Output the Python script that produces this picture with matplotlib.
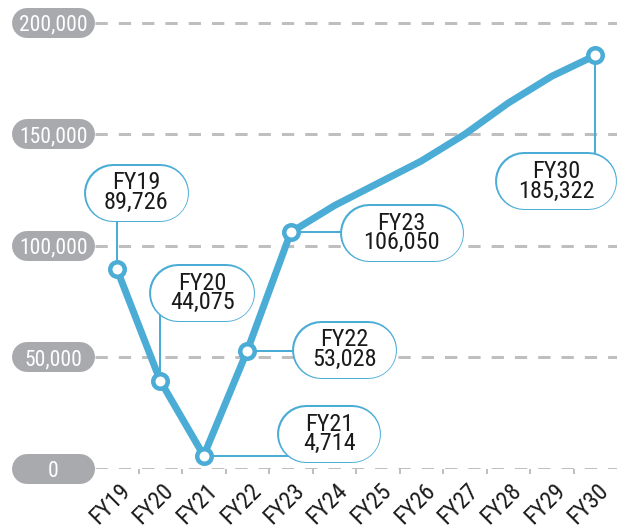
import matplotlib
matplotlib.use('Agg')
import matplotlib.pyplot as plt
import matplotlib.transforms as mtransforms

plt.rcParams['font.family'] = ['Roboto Condensed', 'DejaVu Sans']
plt.rcParams['lines.scale_dashes'] = False

years = ['FY19', 'FY20', 'FY21', 'FY22', 'FY23', 'FY24', 'FY25',
         'FY26', 'FY27', 'FY28', 'FY29', 'FY30']
values = [89726, 39500, 6000, 53028, 106050, 118000, 128000,
          138000, 150000, 164000, 176000, 185322]

yticks = [0, 50000, 100000, 150000, 200000]
ytick_labels = ['0', '50,000', '100,000', '150,000', '200,000']

# callouts: which year, label text, box centre, box width (px), connector direction
callout_idx = [0, 1, 2, 3, 4, 11]
callout_text = ['FY19\n89,726', 'FY20\n44,075', 'FY21\n4,714',
                'FY22\n53,028', 'FY23\n106,050', 'FY30\n185,322']
callout_x = [0.45, 1.966, 4.885, 5.24, 6.55, 10.10]
callout_y = [123900, 78870, 15680, 53550, 105760, 128840]
callout_w = [105, 106, 104, 105, 124, 122]
callout_dir = ['v', 'v', 'h', 'h', 'h', 'v']

blue = '#4badd6'
grey_pill = '#a9aaad'
grid_grey = '#bfbfbf'

W, H = 617, 529
fig = plt.figure(figsize=(W / 100, H / 100), dpi=100)
ax = fig.add_axes([95 / W, 60 / H, 522 / W, 469 / H])
ax.set_xlim(-0.5, 11.5)
ax.set_ylim(0, 210170)
for s in ax.spines.values():
    s.set_visible(False)

px = 72 / 100  # points per pixel
xunit_px = 522 / 12

# dashed gridlines
for v in yticks:
    ax.axhline(v, color=grid_grey, lw=3 * px, dashes=(12.3 * px, 11 * px),
               zorder=1)

# grey pill y labels
trans = mtransforms.blended_transform_factory(ax.transAxes, ax.transData)
for v, lab in zip(yticks, ytick_labels):
    ax.plot([(27 - 95) / 522, (80 - 95) / 522], [v, v], transform=trans,
            color=grey_pill, lw=30 * px, solid_capstyle='round',
            clip_on=False, zorder=3)
    ax.text((53.5 - 95) / 522, v, lab, transform=trans, color='white',
            fontsize=15.5, ha='center', va='center_baseline', clip_on=False,
            zorder=4)

# x ticks
x = list(range(len(years)))
ax.set_xticks(x)
ax.set_xticklabels(years, rotation=45, ha='right', va='top',
                   rotation_mode='anchor', fontsize=17, color='#1a1a1a')
ax.tick_params(axis='x', which='major', length=0, pad=7)
ax.set_xticks([i + 0.5 for i in range(len(years) - 1)], minor=True)
ax.tick_params(axis='x', which='minor', length=5 * px, width=2 * px,
               color=grid_grey, direction='out')
offset = mtransforms.ScaledTranslation(2 / 100, 0, fig.dpi_scale_trans)
for lbl in ax.get_xticklabels():
    lbl.set_transform(lbl.get_transform() + offset)
ax.set_yticks([])

# connectors
for i, cx, cy, d in zip(callout_idx, callout_x, callout_y, callout_dir):
    if d == 'v':
        ax.plot([i, i], [values[i], cy], color=blue, lw=2 * px, zorder=2,
                clip_on=False)
    else:
        ax.plot([i, cx], [values[i], values[i]], color=blue, lw=2 * px,
                zorder=2, clip_on=False)

# main line
ax.plot(x, values, color=blue, lw=7 * px, solid_joinstyle='round',
        solid_capstyle='round', zorder=5, clip_on=False)
mk = [0, 1, 2, 3, 4, 11]
ax.plot([x[i] for i in mk], [values[i] for i in mk], 'o', color=blue,
        markerfacecolor='white', markersize=14.5 * px,
        markeredgewidth=4.5 * px, zorder=6, clip_on=False)

# callout boxes (stadium shapes)
for t, cx, cy, w in zip(callout_text, callout_x, callout_y, callout_w):
    half = (w - 58) / 2 / xunit_px
    ax.plot([cx - half, cx + half], [cy, cy], color=blue, lw=58 * px,
            solid_capstyle='round', zorder=7, clip_on=False)
    ax.plot([cx - half, cx + half], [cy, cy], color='white', lw=55 * px,
            solid_capstyle='round', zorder=8, clip_on=False)
    ax.text(cx, cy, t, ha='center', va='center', fontsize=17.5,
            linespacing=0.8, color='#1a1a1a', zorder=9)

fig.savefig('out.png', dpi=100)
